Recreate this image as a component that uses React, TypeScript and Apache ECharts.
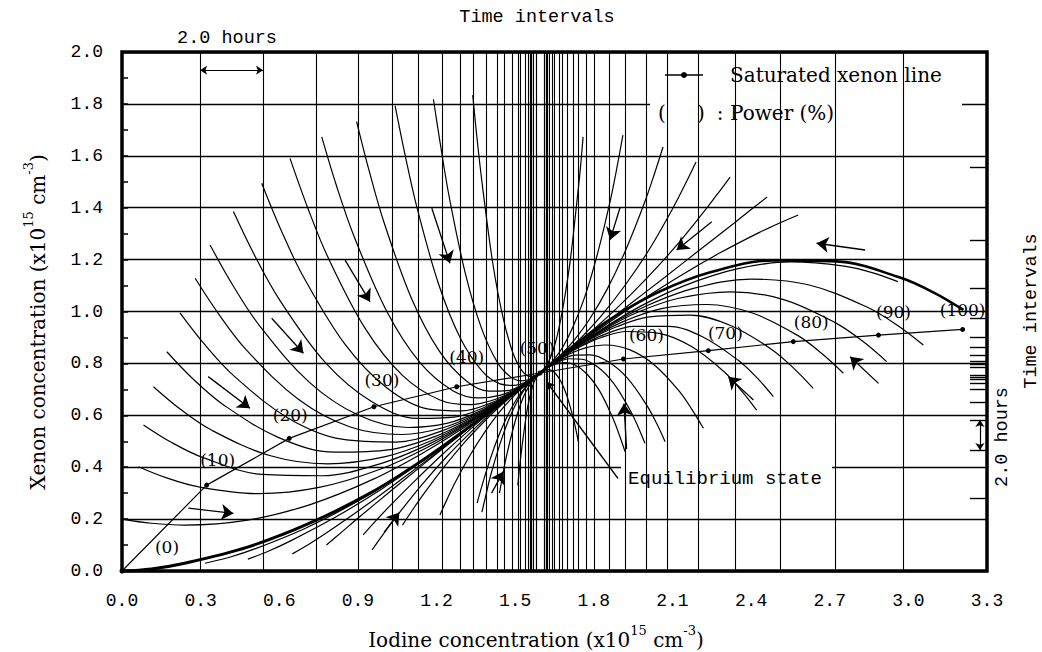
import React, { useEffect, useRef } from "react";
import * as echarts from "echarts";

// ---------- data ----------
const powerLabels = ["(0)", "(10)", "(20)", "(30)", "(40)", "(50)", "(60)", "(70)", "(80)", "(90)", "(100)"];
const satIodine = [0, 0.323, 0.638, 0.961, 1.277, 1.595, 1.913, 2.237, 2.561, 2.886, 3.207];
const satXenon = [0, 0.331, 0.511, 0.633, 0.71, 0.763, 0.817, 0.849, 0.884, 0.909, 0.931];

// iodine values of the 2-hour "time interval" vertical lines
const iodineTimeLines = [
  0.298, 0.538, 0.736, 0.896, 1.03, 1.129, 1.217, 1.286, 1.339, 1.392, 1.431, 1.461, 1.488, 1.507,
  1.522, 1.538, 1.549, 1.558, 1.572, 1.578, 1.584,
  2.98, 2.72, 2.51, 2.34, 2.2, 2.08, 1.995, 1.92, 1.86, 1.8, 1.77, 1.74, 1.72, 1.7, 1.68, 1.665,
  1.65, 1.64, 1.632, 1.615, 1.608,
];
const iodineHeavyLines = [1.565, 1.622];
// xenon values of the 2-hour ticks on the right edge
const xenonTimeTicks = [
  1.557, 1.276, 1.09, 0.975, 0.9, 0.864, 0.83, 0.81, 0.795, 0.785,
  0.28, 0.466, 0.582, 0.651, 0.7, 0.722, 0.738, 0.748, 0.755,
];

// trajectories [iodine, xenon]
const originCurve = [[0, 0], [0.112, 0.008], [0.239, 0.03], [0.479, 0.092], [0.718, 0.185], [0.957, 0.306], [1.148, 0.428], [1.308, 0.543], [1.436, 0.641], [1.595, 0.763]];
const peakCurve = [[3.21, 1.006], [3.097, 1.073], [2.968, 1.131], [2.726, 1.193], [2.483, 1.197], [2.241, 1.15], [2.047, 1.075], [1.886, 0.985], [1.757, 0.895], [1.595, 0.763]];
const doubleCurve = [[2.96, 1.115], [2.865, 1.149], [2.755, 1.175], [2.551, 1.191], [2.346, 1.164], [2.141, 1.098], [1.977, 1.02], [1.841, 0.938], [1.732, 0.865], [1.595, 0.763]];

const upperLeftCurves = [
  [[1.338, 1.834], [1.356, 1.652], [1.377, 1.468], [1.415, 1.183], [1.454, 0.975], [1.492, 0.838], [1.523, 0.776], [1.549, 0.752], [1.569, 0.75], [1.595, 0.763]],
  [[1.188, 1.818], [1.217, 1.629], [1.249, 1.438], [1.31, 1.146], [1.371, 0.937], [1.432, 0.804], [1.481, 0.749], [1.522, 0.733], [1.554, 0.739], [1.595, 0.763]],
  [[1.042, 1.792], [1.081, 1.598], [1.125, 1.402], [1.208, 1.105], [1.291, 0.897], [1.374, 0.77], [1.44, 0.722], [1.496, 0.715], [1.54, 0.728], [1.595, 0.763]],
  [[0.895, 1.732], [0.944, 1.538], [1.0, 1.342], [1.105, 1.049], [1.21, 0.848], [1.315, 0.731], [1.399, 0.693], [1.469, 0.695], [1.525, 0.717], [1.595, 0.763]],
  [[0.762, 1.673], [0.82, 1.479], [0.887, 1.285], [1.012, 0.997], [1.137, 0.803], [1.262, 0.695], [1.362, 0.667], [1.445, 0.678], [1.512, 0.707], [1.595, 0.763]],
  [[0.641, 1.59], [0.708, 1.401], [0.784, 1.213], [0.927, 0.936], [1.07, 0.754], [1.213, 0.659], [1.328, 0.641], [1.423, 0.661], [1.5, 0.697], [1.595, 0.763]],
  [[0.533, 1.494], [0.607, 1.313], [0.692, 1.134], [0.852, 0.872], [1.011, 0.705], [1.17, 0.624], [1.298, 0.617], [1.404, 0.646], [1.489, 0.689], [1.595, 0.763]],
  [[0.425, 1.385], [0.507, 1.214], [0.601, 1.045], [0.776, 0.803], [0.952, 0.653], [1.127, 0.588], [1.267, 0.593], [1.384, 0.631], [1.478, 0.681], [1.595, 0.763]],
  [[0.336, 1.256], [0.424, 1.099], [0.525, 0.945], [0.714, 0.728], [0.903, 0.6], [1.091, 0.553], [1.243, 0.57], [1.368, 0.617], [1.469, 0.674], [1.595, 0.763]],
  [[0.279, 1.128], [0.371, 0.987], [0.476, 0.85], [0.674, 0.661], [0.871, 0.555], [1.069, 0.526], [1.227, 0.553], [1.358, 0.608], [1.463, 0.669], [1.595, 0.763]],
  [[0.221, 0.995], [0.317, 0.871], [0.427, 0.752], [0.633, 0.59], [0.839, 0.508], [1.045, 0.497], [1.21, 0.536], [1.348, 0.598], [1.458, 0.664], [1.595, 0.763]],
  [[0.171, 0.845], [0.271, 0.74], [0.385, 0.642], [0.598, 0.514], [0.812, 0.458], [1.025, 0.468], [1.196, 0.519], [1.339, 0.589], [1.453, 0.659], [1.595, 0.763]],
  [[0.12, 0.71], [0.223, 0.623], [0.341, 0.543], [0.563, 0.445], [0.784, 0.413], [1.005, 0.441], [1.182, 0.503], [1.33, 0.58], [1.448, 0.655], [1.595, 0.763]],
  [[0.082, 0.563], [0.188, 0.496], [0.309, 0.437], [0.536, 0.372], [0.763, 0.367], [0.99, 0.415], [1.171, 0.489], [1.323, 0.572], [1.444, 0.652], [1.595, 0.763]],
  [[0.063, 0.402], [0.17, 0.359], [0.293, 0.324], [0.523, 0.298], [0.752, 0.322], [0.982, 0.391], [1.166, 0.477], [1.319, 0.567], [1.442, 0.649], [1.595, 0.763]],
  [[0, 0.2], [0.112, 0.184], [0.239, 0.177], [0.479, 0.196], [0.718, 0.256], [0.957, 0.353], [1.148, 0.455], [1.308, 0.555], [1.436, 0.644], [1.595, 0.763]],
];

const lowerMidCurves = [
  [[0.317, 0.03], [0.407, 0.052], [0.509, 0.086], [0.7, 0.165], [0.892, 0.265], [1.084, 0.383], [1.237, 0.49], [1.365, 0.585], [1.467, 0.663], [1.595, 0.763]],
  [[0.48, 0.046], [0.558, 0.076], [0.647, 0.118], [0.815, 0.208], [0.982, 0.31], [1.149, 0.425], [1.283, 0.522], [1.394, 0.606], [1.484, 0.676], [1.595, 0.763]],
  [[0.65, 0.066], [0.716, 0.105], [0.792, 0.155], [0.934, 0.255], [1.075, 0.36], [1.217, 0.468], [1.33, 0.556], [1.425, 0.63], [1.501, 0.689], [1.595, 0.763]],
  [[0.78, 0.1], [0.837, 0.149], [0.902, 0.205], [1.025, 0.308], [1.147, 0.409], [1.269, 0.508], [1.367, 0.586], [1.448, 0.649], [1.514, 0.7], [1.595, 0.763]],
  [[0.954, 0.081], [0.999, 0.145], [1.05, 0.214], [1.146, 0.335], [1.242, 0.444], [1.339, 0.543], [1.416, 0.615], [1.48, 0.671], [1.531, 0.713], [1.595, 0.763]],
  [[0.92, 0.139], [0.967, 0.192], [1.021, 0.25], [1.123, 0.353], [1.224, 0.451], [1.325, 0.543], [1.406, 0.612], [1.474, 0.668], [1.528, 0.711], [1.595, 0.763]],
  [[1.07, 0.177], [1.107, 0.233], [1.149, 0.294], [1.228, 0.4], [1.306, 0.495], [1.385, 0.579], [1.448, 0.64], [1.501, 0.687], [1.543, 0.722], [1.595, 0.763]],
  [[1.213, 0.216], [1.24, 0.276], [1.27, 0.339], [1.328, 0.446], [1.385, 0.537], [1.442, 0.615], [1.488, 0.667], [1.526, 0.705], [1.557, 0.732], [1.595, 0.763]],
  [[1.355, 0.262], [1.372, 0.324], [1.391, 0.388], [1.427, 0.495], [1.463, 0.582], [1.499, 0.651], [1.528, 0.694], [1.552, 0.724], [1.571, 0.743], [1.595, 0.763]],
  [[1.373, 0.227], [1.389, 0.295], [1.406, 0.367], [1.44, 0.483], [1.473, 0.577], [1.506, 0.65], [1.533, 0.696], [1.555, 0.725], [1.573, 0.744], [1.595, 0.763]],
  [[1.44, 0.3], [1.451, 0.361], [1.463, 0.425], [1.487, 0.528], [1.51, 0.611], [1.533, 0.674], [1.552, 0.711], [1.567, 0.735], [1.58, 0.749], [1.595, 0.763]],
  [[1.51, 0.33], [1.516, 0.391], [1.523, 0.455], [1.536, 0.556], [1.548, 0.634], [1.561, 0.692], [1.571, 0.725], [1.58, 0.744], [1.587, 0.755], [1.595, 0.763]],
];

const upperRightCurves = [
  [[1.759, 1.673], [1.748, 1.544], [1.734, 1.41], [1.71, 1.196], [1.685, 1.031], [1.661, 0.909], [1.641, 0.84], [1.625, 0.801], [1.611, 0.78], [1.595, 0.763]],
  [[1.911, 1.68], [1.889, 1.559], [1.864, 1.433], [1.816, 1.23], [1.769, 1.067], [1.721, 0.942], [1.684, 0.867], [1.652, 0.82], [1.627, 0.791], [1.595, 0.763]],
  [[2.064, 1.634], [2.031, 1.53], [1.994, 1.421], [1.923, 1.24], [1.853, 1.09], [1.783, 0.969], [1.726, 0.891], [1.679, 0.838], [1.642, 0.802], [1.595, 0.763]],
  [[2.19, 1.576], [2.148, 1.489], [2.101, 1.397], [2.012, 1.24], [1.922, 1.105], [1.833, 0.989], [1.762, 0.91], [1.702, 0.852], [1.655, 0.811], [1.595, 0.763]],
  [[2.32, 1.518], [2.269, 1.449], [2.211, 1.373], [2.103, 1.24], [1.994, 1.12], [1.885, 1.01], [1.798, 0.93], [1.726, 0.867], [1.668, 0.82], [1.595, 0.763]],
  [[2.461, 1.441], [2.4, 1.393], [2.331, 1.337], [2.201, 1.235], [2.071, 1.132], [1.941, 1.031], [1.838, 0.95], [1.751, 0.883], [1.682, 0.83], [1.595, 0.763]],
  [[2.58, 1.372], [2.511, 1.342], [2.432, 1.305], [2.285, 1.228], [2.137, 1.142], [1.989, 1.048], [1.871, 0.967], [1.772, 0.896], [1.694, 0.838], [1.595, 0.763]],
];

const lowerRightCurves = [
  [[3.057, 0.871], [2.955, 0.949], [2.838, 1.019], [2.618, 1.103], [2.399, 1.125], [2.18, 1.089], [2.004, 1.023], [1.858, 0.946], [1.741, 0.87], [1.595, 0.763]],
  [[2.917, 0.807], [2.825, 0.886], [2.719, 0.958], [2.521, 1.047], [2.322, 1.076], [2.124, 1.051], [1.965, 0.996], [1.833, 0.927], [1.727, 0.86], [1.595, 0.763]],
  [[2.752, 0.762], [2.671, 0.837], [2.579, 0.907], [2.405, 0.994], [2.231, 1.027], [2.058, 1.011], [1.919, 0.964], [1.803, 0.906], [1.711, 0.848], [1.595, 0.763]],
  [[2.637, 0.704], [2.564, 0.78], [2.481, 0.852], [2.324, 0.945], [2.168, 0.986], [2.012, 0.979], [1.887, 0.941], [1.783, 0.891], [1.699, 0.839], [1.595, 0.763]],
  [[2.485, 0.672], [2.423, 0.744], [2.352, 0.811], [2.218, 0.901], [2.085, 0.943], [1.951, 0.943], [1.844, 0.913], [1.755, 0.871], [1.684, 0.828], [1.595, 0.763]],
  [[2.421, 0.62], [2.363, 0.695], [2.297, 0.768], [2.173, 0.865], [2.049, 0.916], [1.925, 0.923], [1.826, 0.899], [1.744, 0.862], [1.678, 0.823], [1.595, 0.763]],
  [[2.218, 0.55], [2.174, 0.623], [2.125, 0.694], [2.031, 0.794], [1.938, 0.852], [1.844, 0.871], [1.769, 0.86], [1.707, 0.836], [1.657, 0.807], [1.595, 0.763]],
  [[2.072, 0.498], [2.039, 0.57], [2.001, 0.64], [1.929, 0.742], [1.857, 0.805], [1.786, 0.833], [1.729, 0.832], [1.681, 0.817], [1.643, 0.797], [1.595, 0.763]],
  [[1.995, 0.492], [1.967, 0.56], [1.935, 0.626], [1.875, 0.724], [1.815, 0.786], [1.755, 0.816], [1.707, 0.818], [1.667, 0.807], [1.635, 0.791], [1.595, 0.763]],
  [[1.919, 0.46], [1.896, 0.528], [1.87, 0.595], [1.822, 0.694], [1.773, 0.76], [1.725, 0.796], [1.686, 0.803], [1.653, 0.797], [1.627, 0.785], [1.595, 0.763]],
  [[1.741, 0.498], [1.731, 0.548], [1.719, 0.599], [1.697, 0.676], [1.675, 0.729], [1.653, 0.762], [1.636, 0.774], [1.621, 0.776], [1.61, 0.772], [1.595, 0.763]],
];

// direction arrows: [from, to] in data units
const flowArrows = [
  [[1.182, 1.398], [1.251, 1.186]],
  [[0.851, 1.198], [0.946, 1.038]],
  [[0.571, 0.974], [0.692, 0.839]],
  [[0.329, 0.749], [0.488, 0.627]],
  [[0.253, 0.242], [0.425, 0.222]],
  [[1.0, 0.15], [1.058, 0.225]],
  [[1.41, 0.3], [1.455, 0.383]],
  [[1.9, 1.4], [1.862, 1.276]],
  [[2.25, 1.346], [2.116, 1.237]],
  [[2.835, 1.237], [2.65, 1.263]],
  [[2.409, 0.659], [2.313, 0.749]],
  [[2.886, 0.723], [2.778, 0.826]],
  [[1.925, 0.47], [1.915, 0.645]],
];
const equilibriumPointer = [[1.892, 0.357], [1.62, 0.729]];
const topSpan = [[0.298, 1.93], [0.538, 1.93]];
const rightSpan = [[3.273, 0.466], [3.273, 0.582]];

// ---------- styling ----------
const MONO = '"Liberation Mono", "DejaVu Sans Mono", monospace';
const SERIF = '"DejaVu Serif", "Liberation Serif", serif';
const satLabelOffsets = [[45, -24], [11, -25], [1, -23], [8, -27], [10, -30], [-3, -25], [23, -24], [17, -18], [18, -20], [15, -23], [0, -19]];

function curve(pts: number[][], width = 1.2) {
  return {
    type: "line",
    data: pts,
    showSymbol: false,
    symbol: "none",
    smooth: 0.35,
    silent: true,
    lineStyle: { color: "#000", width },
    z: 2,
  };
}

function segLines(pairs: number[][][], symbol: string[], size: number, width: number, z = 3) {
  return {
    type: "line",
    data: [],
    silent: true,
    z,
    markLine: {
      silent: true,
      symbol,
      symbolSize: size,
      label: { show: false },
      lineStyle: { color: "#000", width, type: "solid" },
      emphasis: { disabled: true },
      data: pairs.map((p) => [{ coord: p[0] }, { coord: p[1] }]),
    },
  };
}

function buildOption() {
  const richTitle = {
    a: { fontFamily: SERIF, fontSize: 20, lineHeight: 26, verticalAlign: "bottom", fill: "#000" },
    s: { fontFamily: SERIF, fontSize: 13, lineHeight: 13, verticalAlign: "top", fill: "#000" },
  };
  const series: any[] = [];
  series.push({
    type: "line",
    data: [],
    silent: true,
    z: 1,
    markLine: {
      silent: true,
      symbol: ["none", "none"],
      label: { show: false },
      lineStyle: { color: "#000", width: 1.1, type: "solid" },
      data: iodineTimeLines.map((v) => ({ xAxis: v })),
    },
  });
  series.push({
    type: "line",
    data: [],
    silent: true,
    z: 1,
    markLine: {
      silent: true,
      symbol: ["none", "none"],
      label: { show: false },
      lineStyle: { color: "#000", width: 2.2, type: "solid" },
      data: iodineHeavyLines.map((v) => ({ xAxis: v })),
    },
  });
  series.push(segLines(xenonTimeTicks.map((y) => [[3.235, y], [3.3, y]]), ["none", "none"], 0, 1.4, 1));
  upperLeftCurves.forEach((c) => series.push(curve(c)));
  lowerMidCurves.forEach((c) => series.push(curve(c)));
  upperRightCurves.forEach((c) => series.push(curve(c)));
  lowerRightCurves.forEach((c) => series.push(curve(c)));
  series.push(curve(doubleCurve, 1.3));
  series.push(curve(originCurve, 3));
  series.push(curve(peakCurve, 2.6));
  series.push(segLines(flowArrows, ["none", "arrow"], 12, 1.3, 4));
  series.push(segLines([topSpan, rightSpan], ["arrow", "arrow"], 7, 1.2, 4));
  series.push(segLines([equilibriumPointer], ["none", "arrow"], 8, 1.5, 10));
  series.push({
    type: "line",
    name: "Saturated xenon line",
    data: satIodine.map((x, i) => ({
      value: [x, satXenon[i]],
      label: { offset: satLabelOffsets[i] },
    })),
    symbol: "circle",
    symbolSize: 5,
    showSymbol: true,
    silent: true,
    z: 6,
    itemStyle: { color: "#000" },
    lineStyle: { color: "#000", width: 1.2 },
    label: {
      show: true,
      position: "inside",
      formatter: (p: any) => powerLabels[p.dataIndex],
      fontFamily: SERIF,
      fontSize: 17,
      color: "#000",
    },
  });

  return {
    animation: false,
    backgroundColor: "#fff",
    grid: {
      left: 122,
      top: 52,
      width: 865,
      height: 519,
      show: true,
      borderColor: "#000",
      borderWidth: 3.5,
      backgroundColor: "transparent",
    },
    xAxis: {
      type: "value",
      min: 0,
      max: 3.3,
      interval: 0.3,
      axisLine: { show: false },
      axisTick: { show: false },
      splitLine: { show: false },
      axisLabel: {
        formatter: (v: number) => v.toFixed(1),
        fontFamily: MONO,
        fontSize: 18,
        color: "#000",
        margin: 21,
        showMaxLabel: true,
        showMinLabel: true,
      },
    },
    yAxis: {
      type: "value",
      min: 0,
      max: 2,
      interval: 0.2,
      axisLine: { show: false },
      axisTick: { show: true, inside: true, length: 6, lineStyle: { color: "#000", width: 1.5 } },
      minorTick: { show: true, splitNumber: 2, length: 6, lineStyle: { color: "#000", width: 1.5 } },
      splitLine: { show: true, lineStyle: { color: "#000", width: 1.3 } },
      axisLabel: {
        formatter: (v: number) => v.toFixed(1),
        fontFamily: MONO,
        fontSize: 18,
        color: "#000",
        margin: 19,
      },
    },
    graphic: [
      { type: "rect", z: 5, shape: { x: 650, y: 63, width: 312, height: 69 }, style: { fill: "#fff" } },
      { type: "line", z: 6, shape: { x1: 665, y1: 75, x2: 703, y2: 75 }, style: { stroke: "#000", lineWidth: 1.5 } },
      { type: "circle", z: 6, shape: { cx: 684, cy: 75, r: 3 }, style: { fill: "#000" } },
      { type: "text", z: 6, x: 730, y: 75, style: { text: "Saturated xenon line", fontFamily: SERIF, fontSize: 20, fill: "#000", align: "left", verticalAlign: "middle" } },
      { type: "text", z: 6, x: 662, y: 113, style: { text: "(", fontFamily: SERIF, fontSize: 20, fill: "#000", align: "center", verticalAlign: "middle" } },
      { type: "text", z: 6, x: 701, y: 113, style: { text: ")", fontFamily: SERIF, fontSize: 20, fill: "#000", align: "center", verticalAlign: "middle" } },
      { type: "text", z: 6, x: 720, y: 113, style: { text: ":", fontFamily: SERIF, fontSize: 20, fill: "#000", align: "center", verticalAlign: "middle" } },
      { type: "text", z: 6, x: 730, y: 113, style: { text: "Power (%)", fontFamily: SERIF, fontSize: 20, fill: "#000", align: "left", verticalAlign: "middle" } },
      { type: "rect", z: 5, shape: { x: 621, y: 456, width: 211, height: 42 }, style: { fill: "#fff" } },
      { type: "text", z: 6, x: 725, y: 479, style: { text: "Equilibrium state", fontFamily: MONO, fontSize: 19, fill: "#000", align: "center", verticalAlign: "middle" } },
      { type: "text", z: 6, x: 537, y: 17, style: { text: "Time intervals", fontFamily: MONO, fontSize: 18.5, fill: "#000", align: "center", verticalAlign: "middle" } },
      { type: "text", z: 6, x: 227, y: 38, style: { text: "2.0 hours", fontFamily: MONO, fontSize: 18.5, fill: "#000", align: "center", verticalAlign: "middle" } },
      { type: "text", z: 6, x: 1031, y: 311, rotation: Math.PI / 2, style: { text: "Time intervals", fontFamily: MONO, fontSize: 18.5, fill: "#000", align: "center", verticalAlign: "middle" } },
      { type: "text", z: 6, x: 1002, y: 437, rotation: Math.PI / 2, style: { text: "2.0 hours", fontFamily: MONO, fontSize: 18.5, fill: "#000", align: "center", verticalAlign: "middle" } },
      {
        type: "text", z: 6, x: 536, y: 637,
        style: { text: "{a|Iodine concentration (x10}{s|15}{a| cm}{s|-3}{a|)}", rich: richTitle, align: "center", verticalAlign: "middle" },
      },
      {
        type: "text", z: 6, x: 35, y: 322, rotation: Math.PI / 2,
        style: { text: "{a|Xenon concentration (x10}{s|15}{a| cm}{s|-3}{a|)}", rich: richTitle, align: "center", verticalAlign: "middle" },
      },
    ],
    series,
  };
}

export default function App() {
  const ref = useRef<HTMLDivElement>(null);
  useEffect(() => {
    if (!ref.current) return;
    const chart = echarts.init(ref.current, null, { renderer: "svg" });
    chart.setOption(buildOption() as any);
    return () => chart.dispose();
  }, []);
  return (
    <div
      ref={ref}
      style={{ position: "absolute", left: 0, top: 0, width: 1042, height: 652, background: "#fff" }}
    />
  );
}
